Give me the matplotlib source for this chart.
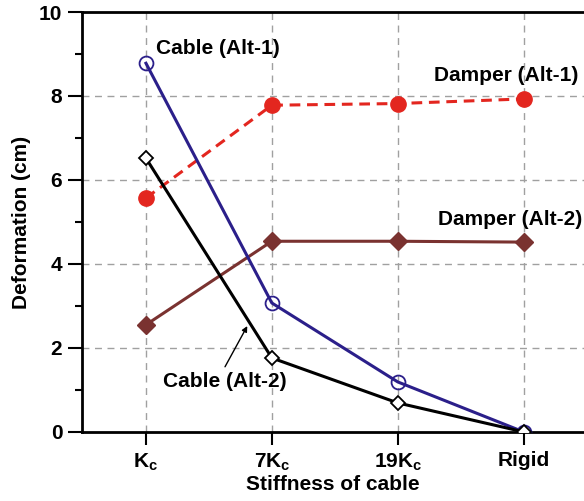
import matplotlib
matplotlib.use("Agg")
import matplotlib.pyplot as plt
from matplotlib.ticker import MultipleLocator

plt.rcParams['font.family'] = ['Liberation Sans', 'DejaVu Sans']
plt.rcParams['font.weight'] = 'bold'
plt.rcParams['mathtext.fontset'] = 'custom'
plt.rcParams['mathtext.rm'] = 'Liberation Sans:bold'
plt.rcParams['mathtext.it'] = 'Liberation Sans:bold'
plt.rcParams['mathtext.bf'] = 'Liberation Sans:bold'

categories = [r'K$_\mathrm{c}$', r'7K$_\mathrm{c}$', r'19K$_\mathrm{c}$', 'Rigid']
cable_alt1 = [8.78, 3.07, 1.19, 0.0]
cable_alt2 = [6.52, 1.76, 0.69, 0.0]
damper_alt1 = [5.57, 7.78, 7.82, 7.93]
damper_alt2 = [2.55, 4.54, 4.54, 4.52]

x = list(range(len(categories)))

fig = plt.figure(figsize=(5.84, 5.01), dpi=100)
ax = fig.add_axes([0.140, 0.138, 0.860, 0.838])

grid_kw = dict(color='#a0a0a0', linestyle=(0, (5, 4)), linewidth=1.0, zorder=0)
for xi in x:
    ax.axvline(xi, **grid_kw)
for yv in [2, 4, 6, 8]:
    ax.axhline(yv, **grid_kw)

ax.plot(x, damper_alt2, color='#7a3230', lw=2.2, marker='D', ms=9,
        mfc='#7a3230', mec='#7a3230', zorder=3)
ax.plot(x, damper_alt1, color='#e3261f', lw=2.2, ls=(0, (3.5, 2.2)), marker='o', ms=11,
        mfc='#e3261f', mec='#e3261f', zorder=3)
ax.plot(x, cable_alt1, color='#2b1f8a', lw=2.2, marker='o', ms=10,
        mfc='none', mec='#2b1f8a', mew=1.3, zorder=4)
ax.plot(x, cable_alt2, color='black', lw=2.2, marker='D', ms=7.5,
        mfc='white', mec='black', mew=1.3, zorder=5)

ax.set_xlim(-0.51, 3.48)
ax.set_ylim(0, 10)
ax.set_xticks(x)
ax.set_xticklabels(categories)
ax.yaxis.set_major_locator(MultipleLocator(2))
ax.yaxis.set_minor_locator(MultipleLocator(1))
ax.tick_params(axis='both', which='major', direction='out', length=10, width=1.5,
               labelsize=15, pad=4)
ax.tick_params(axis='y', which='minor', direction='out', length=5, width=1.5)
ax.tick_params(axis='x', length=9, pad=5)

for s in ['left', 'top', 'bottom']:
    ax.spines[s].set_linewidth(2.0)
ax.spines['right'].set_visible(False)

ax.set_ylabel('Deformation (cm)', fontsize=15, fontweight='bold', labelpad=6)
ax.set_xlabel('Stiffness of cable', fontsize=15, fontweight='bold', labelpad=2)

fs = 15
ax.text(0.08, 9.12, 'Cable (Alt-1)', fontsize=fs, fontweight='bold', ha='left', va='center')
ax.text(2.86, 8.48, 'Damper (Alt-1)', fontsize=fs, fontweight='bold', ha='center', va='center')
ax.text(2.89, 5.05, 'Damper (Alt-2)', fontsize=fs, fontweight='bold', ha='center', va='center')
ax.text(0.135, 1.19, 'Cable (Alt-2)', fontsize=fs, fontweight='bold', ha='left', va='center')
ax.annotate('', xy=(0.805, 2.52), xytext=(0.628, 1.55),
            arrowprops=dict(arrowstyle='-|>', color='black', lw=1.0,
                            mutation_scale=8, shrinkA=0, shrinkB=0))

fig.savefig('out.png', dpi=100)
